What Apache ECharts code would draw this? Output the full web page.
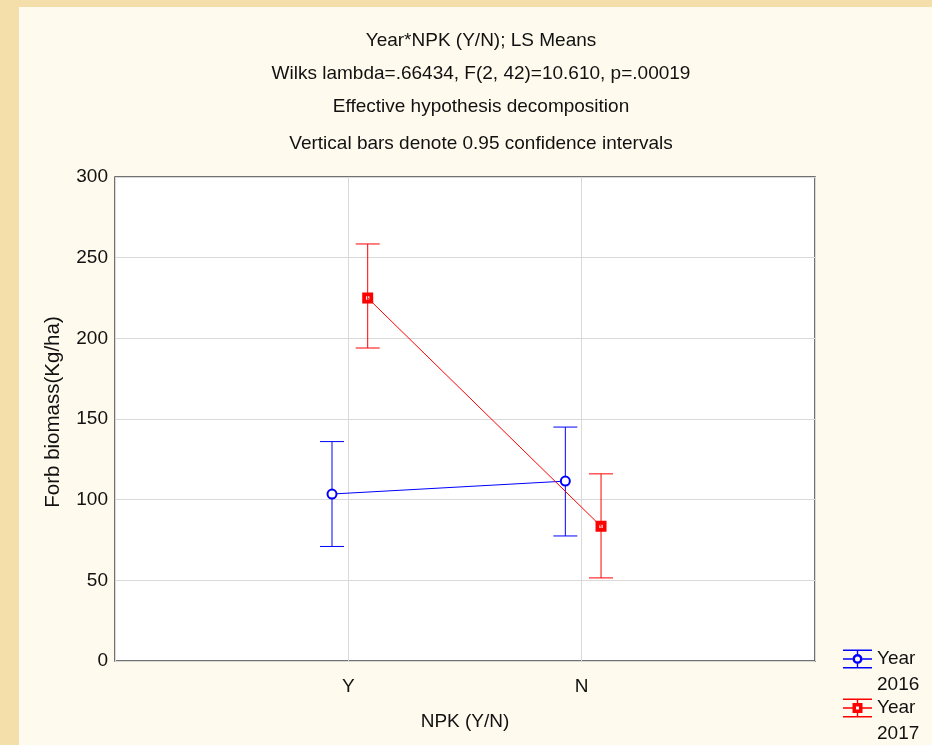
<!DOCTYPE html>
<html>
<head>
<meta charset="utf-8">
<script src="https://cdn.jsdelivr.net/npm/echarts@6/dist/echarts.min.js"></script>
<style>
  html, body { margin: 0; padding: 0; background: #f4dfaa; }
  #chart { width: 932px; height: 745px; }
</style>
</head>
<body>
<div id="chart"></div>
<script>
// data
const categories = ["Y", "N"];
const years = ["Year 2016", "Year 2017"];
const mean2016 = [103.5, 111.5];
const lower2016 = [71, 77.5];
const upper2016 = [136, 145];
const mean2017 = [225, 83.5];
const lower2017 = [194, 51.5];
const upper2017 = [258.5, 116];
const yTicks = [0, 50, 100, 150, 200, 250, 300];

const titleLines = [
  "Year*NPK (Y/N); LS Means",
  "Wilks lambda=.66434, F(2, 42)=10.610, p=.00019",
  "Effective hypothesis decomposition",
  "Vertical bars denote 0.95 confidence intervals"
];

// small sideways shift so the two years don't overlap
const shift2016 = -0.07;
const shift2017 = 0.083;

const font = "Liberation Sans, Arial, sans-serif";
const colors = ["#0000ff", "#ff0000"];

function points(means, shift) {
  return means.map((v, i) => [i + 1 + shift, v]);
}
function bars(lows, highs, shift) {
  return lows.map((lo, i) => [i + 1 + shift, lo, highs[i]]);
}

function errorBar(color) {
  return function (params, api) {
    const top = api.coord([api.value(0), api.value(2)]);
    const bot = api.coord([api.value(0), api.value(1)]);
    const half = 12;
    const style = { stroke: color, lineWidth: 1 };
    return {
      type: "group",
      children: [
        { type: "line", shape: { x1: top[0], y1: top[1], x2: bot[0], y2: bot[1] }, style: style },
        { type: "line", shape: { x1: top[0] - half, y1: top[1], x2: top[0] + half, y2: top[1] }, style: style },
        { type: "line", shape: { x1: bot[0] - half, y1: bot[1], x2: bot[0] + half, y2: bot[1] }, style: style }
      ]
    };
  };
}

// legend icons: error bar with the marker in the middle
const iconCircle = "path://M0,0H29V1.4H0Z M0,17.6H29V19H0Z M13.8,0H15.2V4.5H13.8Z M13.8,14.5H15.2V19H13.8Z" +
  " M0,8.8H9.5V10.2H0Z M19.5,8.8H29V10.2H19.5Z" +
  " M19.5,9.5A5,5 0 1,0 9.5,9.5A5,5 0 1,0 19.5,9.5Z M17,9.5A2.5,2.5 0 1,1 12,9.5A2.5,2.5 0 1,1 17,9.5Z";
const iconSquare = "path://M0,0H29V1.4H0Z M0,17.6H29V19H0Z M13.8,0H15.2V4.5H13.8Z M13.8,14.5H15.2V19H13.8Z" +
  " M0,8.8H9.5V10.2H0Z M19.5,8.8H29V10.2H19.5Z" +
  " M9.5,4.5H19.5V14.5H9.5Z M13,8V11H16V8Z";

const chart = echarts.init(document.getElementById("chart"));

chart.setOption({
  animation: false,
  backgroundColor: "#f4dfaa",
  color: colors,
  graphic: [
    { type: "rect", left: 19, top: 7, z: -10, shape: { width: 913, height: 738 }, style: { fill: "#fffaee" } }
  ],
  title: titleLines.map((t, i) => ({
    text: t,
    left: 476,
    top: [26, 59, 92, 129][i],
    textAlign: "center",
    textStyle: { fontFamily: font, fontSize: 19, fontWeight: "normal", color: "#111" }
  })),
  grid: {
    left: 115, top: 177, width: 700, height: 484,
    show: true, backgroundColor: "#ffffff", borderColor: "#444", borderWidth: 1.5
  },
  legend: years.map((y, i) => ({
    data: [{ name: y, icon: i === 0 ? iconCircle : iconSquare }],
    left: 838,
    top: i === 0 ? 615 : 664,
    orient: "vertical",
    itemWidth: 29,
    itemHeight: 19,
    itemGap: 0,
    itemStyle: { borderWidth: 0 },
    // blank first line keeps "Year" level with the icon
    formatter: (name) => " \n" + name.replace(" ", "\n"),
    textStyle: { fontFamily: font, fontSize: 19, color: "#111", lineHeight: 26 }
  })),
  xAxis: {
    type: "value",
    min: 0, max: 3, interval: 1,
    name: "NPK (Y/N)",
    nameLocation: "middle",
    nameGap: 51,
    nameTextStyle: { fontFamily: font, fontSize: 19, color: "#111" },
    axisLine: { show: false },
    axisTick: { show: false },
    axisLabel: {
      margin: 16,
      fontFamily: font, fontSize: 19, color: "#111",
      formatter: (v) => categories[v - 1] || ""
    },
    splitLine: { show: true, lineStyle: { color: "#d9d9d9", width: 1 } }
  },
  yAxis: {
    type: "value",
    min: yTicks[0], max: yTicks[yTicks.length - 1], interval: 50,
    name: "Forb biomass(Kg/ha)",
    nameLocation: "middle",
    nameGap: 51,
    nameTextStyle: { fontFamily: font, fontSize: 20.5, color: "#111", padding: [0, 0, 0, 14] },
    axisLine: { show: false },
    axisTick: { show: false },
    axisLabel: { margin: 7, fontFamily: font, fontSize: 19, color: "#111" },
    splitLine: { show: true, lineStyle: { color: "#d9d9d9", width: 1 } }
  },
  series: [
    {
      name: years[0], type: "custom", z: 2,
      renderItem: errorBar(colors[0]),
      itemStyle: { color: colors[0] },
      data: bars(lower2016, upper2016, shift2016),
      encode: { x: 0, y: [1, 2] }
    },
    {
      name: years[1], type: "custom", z: 2,
      renderItem: errorBar(colors[1]),
      itemStyle: { color: colors[1] },
      data: bars(lower2017, upper2017, shift2017),
      encode: { x: 0, y: [1, 2] }
    },
    {
      name: years[0], type: "line", z: 3,
      data: points(mean2016, shift2016),
      symbol: "emptyCircle", symbolSize: 9,
      lineStyle: { color: colors[0], width: 1 },
      itemStyle: { color: colors[0], borderWidth: 3 }
    },
    {
      name: years[1], type: "line", z: 3,
      data: points(mean2017, shift2017),
      symbol: "path://M0,0H10V10H0Z M3.5,3.5V6.5H6.5V3.5Z", symbolSize: 11,
      lineStyle: { color: colors[1], width: 1 },
      itemStyle: { color: colors[1] }
    }
  ]
});
</script>
</body>
</html>
